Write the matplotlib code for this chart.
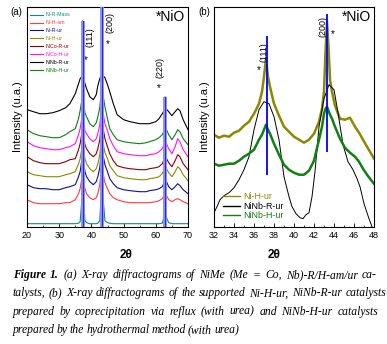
import matplotlib
matplotlib.use("Agg")
import matplotlib.pyplot as plt
from matplotlib.lines import Line2D

plt.rcParams['font.family'] = ['Liberation Sans', 'DejaVu Sans']

# ---- panel (a): XRD patterns, 2theta 20-70 (intensity in arbitrary units)
two_theta_a = [20, 22, 24, 26, 28, 30, 32, 33.3, 35, 36, 36.5, 37.0, 37.3, 37.6, 38, 38.5,
               39.5, 40.6, 41.5, 42, 42.6, 43.0, 43.3, 43.6, 44.2, 45, 45.7, 46.8, 48, 50,
               52, 55, 57, 58, 60, 61, 62, 62.6, 62.9, 63.2, 64, 65, 66, 66.8, 67.5, 68.5, 70]

ni_r_mass = [3, 3, 3, 3, 3, 3, 3, 3, 3, 3.5, 5, 25, 206, 25, 6, 4,
             3, 3, 3, 3.5, 6, 30, 225, 30, 6, 4, 3.5, 3, 3, 3,
             3, 3, 3, 3, 3, 3, 3.5, 10, 130, 10, 4, 3, 3, 3, 3, 3, 3]
ni_h_am = [27, 24, 23, 23, 23, 23, 24, 24, 27, 33, 38, 48, 56, 46, 38, 33,
           29, 27, 29, 33, 42, 55, 64, 54, 44, 38, 33, 29, 27, 25,
           24, 24, 24, 24, 25, 26, 28, 31, 33, 32, 27, 25, 27, 28, 27, 25, 23]
ni_r_ur = [42, 39, 38, 38, 37, 37, 39, 40, 42, 50, 55, 66, 74, 64, 55, 50,
           45, 42, 45, 50, 59, 73, 82, 72, 62, 55, 48, 43, 39, 37,
           36, 35, 35, 36, 37, 38, 40, 44, 47, 46, 40, 37, 40, 43, 41, 37, 33]
ni_h_ur = [55, 52, 51, 50, 50, 50, 52, 53, 55, 63, 68, 78, 86, 76, 68, 63,
           58, 55, 58, 63, 72, 85, 94, 84, 74, 68, 61, 56, 51, 49,
           48, 47, 47, 48, 49, 50, 53, 57, 60, 59, 54, 50, 55, 60, 58, 52, 46]
nico_r_ur = [70, 66, 64, 63, 63, 63, 65, 67, 68, 77, 83, 93, 101, 91, 82, 78,
             73, 70, 73, 78, 87, 100, 109, 99, 88, 80, 73, 66, 61, 59,
             58, 57, 57, 58, 59, 60, 63, 67, 70, 69, 64, 60, 66, 72, 70, 63, 57]
nico_h_ur = [85, 81, 79, 78, 77, 77, 79, 80, 83, 92, 98, 108, 116, 106, 96, 93,
             88, 85, 88, 93, 102, 115, 124, 114, 103, 96, 88, 81, 75, 73,
             72, 71, 71, 72, 73, 75, 78, 82, 85, 84, 78, 73, 80, 88, 85, 77, 70]
ninb_r_ur = [117, 115, 113, 113, 114, 116, 119, 123, 133, 143, 148, 150, 150, 148, 143, 138,
             130, 127, 132, 141, 148, 151, 152, 151, 149, 142, 135, 123, 112, 107,
             105, 103, 103, 103, 105, 108, 113, 116, 118, 118, 115, 111, 115, 118, 116, 107, 97]
ninb_h_ur = [97, 93, 91, 90, 89, 89, 92, 95, 98, 108, 116, 126, 134, 124, 114, 110,
             103, 100, 104, 110, 119, 133, 142, 132, 120, 108, 98, 92, 87, 85,
             84, 83, 84, 85, 87, 89, 92, 96, 98, 98, 92, 87, 92, 97, 95, 88, 82]

series_a = [("Ni-R-Mass", ni_r_mass, "#108a80"),
            ("Ni-H-am", ni_h_am, "#ff3b3b"),
            ("Ni-R-ur", ni_r_ur, "#10108a"),
            ("Ni-H-ur", ni_h_ur, "#8a8a00"),
            ("NiCo-R-ur", nico_r_ur, "#8a0000"),
            ("NiCo-H-ur", nico_h_ur, "#ff10ff"),
            ("NiNb-R-ur", ninb_r_ur, "#000000"),
            ("NiNb-H-ur", ninb_h_ur, "#108010")]

# NiO reflections of the bulk sample
nio_pos_a = [37.3, 43.3, 62.9]
nio_top_a = [206, 225, 130]
nio_hkl = ["(111)", "(200)", "(220)"]

# ---- panel (b): zoom 32-48
ni_h_ur_b_x = [32, 32.5, 33, 33.5, 34, 34.5, 35, 35.5, 36, 36.5, 36.8, 37.0, 37.2, 37.4, 37.6,
               38, 38.5, 39, 39.5, 40, 40.5, 41, 41.5, 42, 42.5, 42.8, 43.0, 43.15, 43.3, 43.45,
               43.6, 43.8, 44.1, 44.6, 45.1, 45.6, 46.1, 46.5, 46.9, 47.3, 47.6, 48]
ni_h_ur_b_y = [92, 89, 91, 90, 94, 96, 101, 105, 113, 123, 135, 150, 168, 150, 140,
               123, 111, 100, 95, 90, 87, 84, 87, 93, 105, 118, 135, 175, 205, 180,
               147, 135, 121, 108, 107, 109, 100, 94, 87, 80, 75, 68]
ninb_h_ur_b_x = ni_h_ur_b_x
ninb_h_ur_b_y = [63, 61, 62, 63, 63, 66, 70, 73, 77, 87, 92, 97, 102, 97, 93,
                 83, 72, 62, 57, 54, 52, 52, 56, 66, 87, 100, 113, 118, 120, 116,
                 112, 108, 100, 88, 79, 74, 70, 65, 58, 52, 48, 43]
ninb_r_ur_b_x = [32, 32.3, 32.6, 33, 33.5, 34, 34.5, 35, 35.5, 36, 36.5, 37, 37.5, 38, 38.5,
                 39, 39.5, 39.8, 40.2, 40.6, 40.9, 41.2, 41.5, 41.8, 42.1, 42.5, 43, 43.5, 44,
                 44.4, 44.9, 45.4, 45.9, 46.3, 46.6, 47, 47.5, 47.8]
ninb_r_ur_b_y = [14, 20, 27, 31, 34, 39, 47, 57, 70, 97, 117, 125, 123, 110, 87,
                 50, 30, 20, 13, 9, 8, 12, 14, 30, 55, 100, 128, 142, 137,
                 114, 82, 65, 57, 48, 40, 23, 8, 0]
nio_pos_b = [37.27, 43.33]
nio_lo_b = [52, 75]
nio_hi_b = [191, 213]

caption = ["Figure 1. (a) X-ray diffractograms of NiMe (Me = Co, Nb)-R/H-am/ur ca-",
           "talysts, (b) X-ray diffractograms of the supported Ni-H-ur, NiNb-R-ur catalysts",
           "prepared by coprecipitation via reflux (with urea) and NiNb-H-ur catalysts",
           "prepared by the hydrothermal method (with urea)"]

W, H = 387, 344
fig = plt.figure(figsize=(W / 100, H / 100), dpi=100)
ax_a = fig.add_axes([27 / W, 1 - 226.7 / H, 161 / W, 219.7 / H])
ax_b = fig.add_axes([214 / W, 1 - 226.7 / H, 160 / W, 219.7 / H])

for ax in (ax_a, ax_b):
    ax.set_yticks([])
    ax.tick_params(axis='x', direction='in', length=3, width=0.6, labelsize=6.5, pad=3)
    ax.tick_params(axis='x', which='minor', direction='in', length=1.6, width=0.5)
    for s in ax.spines.values():
        s.set_linewidth(0.8)
    ax.set_ylabel("Intensity (u.a.)", fontsize=8, labelpad=3)

# panel (a)
handles = []
for label, vals, col in series_a:
    ax_a.plot(two_theta_a, vals, color=col, lw=0.8)
    handles.append(Line2D([], [], color=col, lw=0.8, label=label))
for x, top in zip(nio_pos_a, nio_top_a):
    ax_a.plot([x, x], [0, top], color="#8c8cff", lw=2.8, solid_capstyle='butt', zorder=5)
    ax_a.plot([x, x], [0, top], color="#2a2ac0", lw=0.7, zorder=6)
ax_a.set_xlim(20, 70)
ax_a.set_ylim(0, 219.7)
ax_a.set_xticks(range(20, 71, 10))
ax_a.set_xticks(range(25, 70, 10), minor=True)
ax_a.legend(handles=handles, loc='upper left', bbox_to_anchor=(0.019, 0.975), frameon=False,
            fontsize=3.8, labelcolor='linecolor', handlelength=2.45, handletextpad=0.5,
            labelspacing=0.55, borderpad=0, borderaxespad=0)
ax_a.text(0.89, 0.955, "*NiO", transform=ax_a.transAxes, fontsize=10, ha='center', va='center')
ax_a.text(39.5, 190, nio_hkl[0], rotation=90, fontsize=6.5, ha='center', va='center')
ax_a.text(38.3, 167, "*", fontsize=7, ha='center', va='center')
ax_a.text(45.7, 204, nio_hkl[1], rotation=90, fontsize=6.5, ha='center', va='center')
ax_a.text(45.1, 183, "*", fontsize=7, ha='center', va='center')
ax_a.text(61.2, 159, nio_hkl[2], rotation=90, fontsize=6.5, ha='center', va='center')
ax_a.text(60.9, 139, "*", fontsize=7, ha='center', va='center')

# panel (b)
hb = []
for xs, ys, col, lw, lab in [(ni_h_ur_b_x, ni_h_ur_b_y, "#8a8a00", 1.8, "Ni-H-ur"),
                             (ninb_r_ur_b_x, ninb_r_ur_b_y, "#000000", 0.7, "NiNb-R-ur"),
                             (ninb_h_ur_b_x, ninb_h_ur_b_y, "#108010", 1.8, "NiNb-H-ur")]:
    ax_b.plot(xs, ys, color=col, lw=lw)
    hb.append(Line2D([], [], color=col, lw=1.0, label=lab))
ax_b.vlines(nio_pos_b, nio_lo_b, nio_hi_b, color="#0000ff", lw=1.3, zorder=5)
ax_b.set_xlim(32, 48)
ax_b.set_ylim(0, 219.7)
ax_b.set_xticks(range(32, 49, 2))
ax_b.set_xticks(range(33, 48, 2), minor=True)
ax_b.legend(handles=hb, loc='upper left', bbox_to_anchor=(0.056, 0.156), frameon=False,
            fontsize=6.4, labelcolor='linecolor', handlelength=1.9, handletextpad=0.35,
            labelspacing=0.05, borderpad=0, borderaxespad=0)
ax_b.text(0.89, 0.955, "*NiO", transform=ax_b.transAxes, fontsize=10, ha='center', va='center')
ax_b.text(37.0, 175, nio_hkl[0], rotation=90, fontsize=6.5, ha='center', va='center')
ax_b.text(36.5, 157, "*", fontsize=7, ha='center', va='center')
ax_b.text(42.9, 200, nio_hkl[1], rotation=90, fontsize=6.5, ha='center', va='center')
ax_b.text(43.9, 193, "*", fontsize=7, ha='center', va='center')

fig.text(16 / W, 1 - 12 / H, "(a)", fontsize=7, ha='center', va='center')
fig.text(204 / W, 1 - 12 / H, "(b)", fontsize=7, ha='center', va='center')
fig.text(126 / W, 1 - 254.5 / H, "2θ", fontsize=8.5, fontweight='bold', ha='center', va='center')
fig.text(274 / W, 1 - 254.5 / H, "2θ", fontsize=8.5, fontweight='bold', ha='center', va='center')

# caption, justified word by word
renderer = fig.canvas.get_renderer()
cap_size = 8.4
cap_font = dict(family='Liberation Serif', style='italic', fontsize=cap_size)
line_y = [275, 293.3, 311.7, 330]
line_end = [377, 386, 378, None]
x_start = 12.7
for i, line in enumerate(caption):
    words = line.split(" ")
    objs = []
    for j, w in enumerate(words):
        weight = 'bold' if (i == 0 and j < 2) else 'normal'
        t = fig.text(0, 1 - line_y[i] / H, w, va='center', ha='left', fontweight=weight, **cap_font)
        objs.append(t)
    widths = [t.get_window_extent(renderer).width for t in objs]
    if line_end[i] is None:
        gap = 2.1
    else:
        gap = (line_end[i] - x_start - sum(widths)) / (len(words) - 1)
        gap = max(gap, 1.2)
    x = x_start
    for t, w in zip(objs, widths):
        t.set_x(x / W)
        x += w + gap

fig.savefig("out.png", dpi=100)
